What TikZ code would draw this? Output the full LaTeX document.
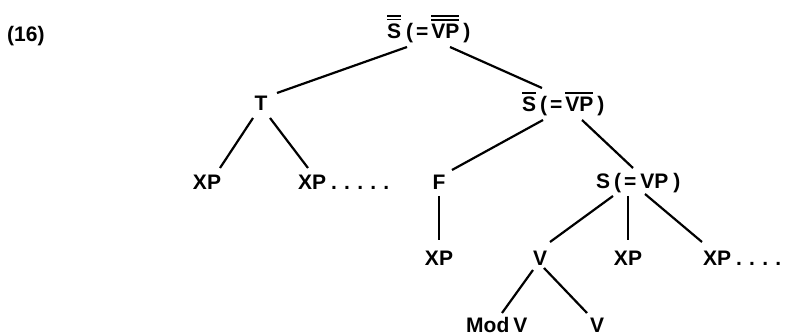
\documentclass[tikz,border=0pt]{standalone}
\usepackage{fontspec}
\setmainfont{Liberation Sans}
\newcommand\ob[1]{\vbox{\hrule height 2pt\kern 3.5pt\hbox{#1}}}
\newcommand\oob[1]{\vbox{\hrule height 1.8pt\kern 1.6pt\hrule height 1.8pt\kern 4pt\hbox{#1}}}
\newcommand\dts[1]{\hspace{5pt}.\foreach \i in {2,...,#1}{\hspace{7.2pt}.}}
\begin{document}
\begin{tikzpicture}[x=1pt,y=-1pt,
  lbl/.style={inner sep=0pt,font=\fontsize{21}{24}\selectfont\bfseries},
  edge/.style={line width=2.2pt}]
\useasboundingbox (0,0) rectangle (785,336);
\node[lbl,anchor=base west] (num) at (7,42) {(16)};
\node[lbl,anchor=base west] (top) at (387,39)
  {\oob{S}\hspace{5pt}(\hspace{3pt}=\hspace{3pt}\oob{VP}\hspace{4pt})};
\node[lbl,anchor=base] (T) at (261,111) {T};
\node[lbl,anchor=base west] (sb) at (522,112)
  {\ob{S}\hspace{4pt}(\hspace{3pt}=\hspace{3pt}\ob{VP}\hspace{4pt})};
\node[lbl,anchor=base] (xp1) at (207,190) {XP};
\node[lbl,anchor=base west] (xp2) at (298,190) {XP\dts{5}};
\node[lbl,anchor=base] (F) at (439,190) {F};
\node[lbl,anchor=base west] (s) at (596,189)
  {S\hspace{4pt}(\hspace{3pt}=\hspace{4pt}VP\hspace{5pt})};
\node[lbl,anchor=base] (xpf) at (439,266) {XP};
\node[lbl,anchor=base] (v) at (540,266) {V};
\node[lbl,anchor=base] (xpm) at (628,266) {XP};
\node[lbl,anchor=base west] (xpr) at (703,266) {XP\dts{4}};
\node[lbl,anchor=base west] (modv) at (466,333) {Mod\hspace{4pt}V};
\node[lbl,anchor=base] (v2) at (597,333) {V};
\draw[edge] ([xshift=20pt,yshift=-8pt]top.base west) -- ([xshift=16pt,yshift=18pt]T.base);
\draw[edge] ([xshift=63pt,yshift=-8pt]top.base west) -- ([xshift=20pt,yshift=24pt]sb.base west);
\draw[edge] ([xshift=-8pt,yshift=-7pt]T.base) -- ([xshift=13pt,yshift=22pt]xp1.base);
\draw[edge] ([xshift=9pt,yshift=-7pt]T.base) -- ([xshift=10pt,yshift=22pt]xp2.base west);
\draw[edge] ([xshift=21pt,yshift=-8pt]sb.base west) -- ([xshift=13pt,yshift=20pt]F.base);
\draw[edge] ([xshift=60pt,yshift=-8pt]sb.base west) -- ([xshift=37pt,yshift=21pt]s.base west);
\draw[edge] ([yshift=-6pt]F.base) -- ([yshift=26pt]xpf.base);
\draw[edge] ([xshift=17pt,yshift=-7pt]s.base west) -- ([xshift=10pt,yshift=24pt]v.base);
\draw[edge] ([xshift=32pt,yshift=-7pt]s.base west) -- ([yshift=26pt]xpm.base);
\draw[edge] ([xshift=49pt,yshift=-5pt]s.base west) -- ([xshift=-1pt,yshift=24pt]xpr.base west);
\draw[edge] ([xshift=-7pt,yshift=-4pt]v.base) -- ([xshift=36pt,yshift=20pt]modv.base west);
\draw[edge] ([xshift=4pt,yshift=-2pt]v.base) -- ([xshift=-10pt,yshift=20pt]v2.base);
\end{tikzpicture}
\end{document}
